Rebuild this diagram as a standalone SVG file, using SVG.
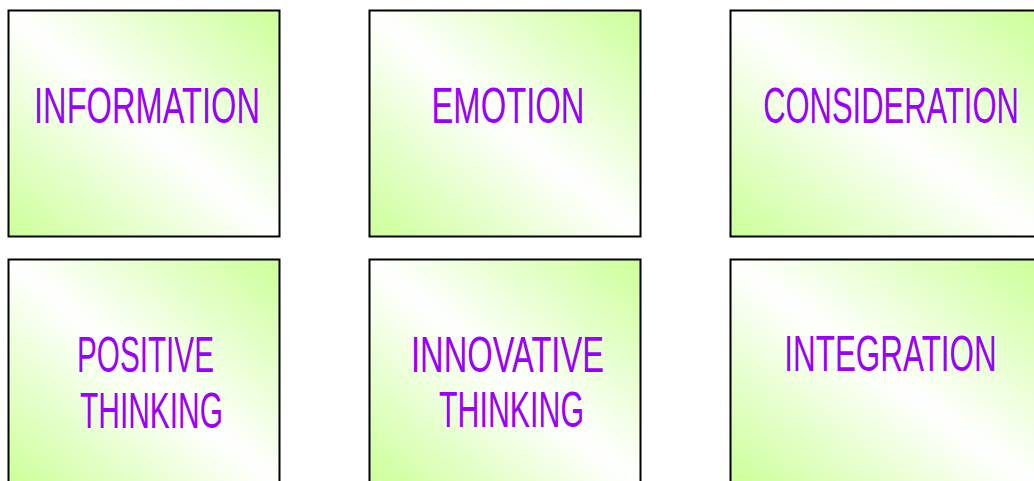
<svg xmlns="http://www.w3.org/2000/svg" width="1034" height="481" viewBox="0 0 1034 481">
  <defs>
    <linearGradient id="g" x1="1" y1="0" x2="0" y2="1">
      <stop offset="0" stop-color="#ccff99"/>
      <stop offset="0.5" stop-color="#ffffff"/>
      <stop offset="1" stop-color="#ccff99"/>
    </linearGradient>
  </defs>
  <style>
    .box { fill: url(#g); stroke: #000; stroke-width: 2; }
    .lbl { font-family: "Liberation Sans", Arial, sans-serif; font-size: 50px; fill: #9900ff; text-anchor: middle; }
  </style>
  <rect width="1034" height="481" fill="#ffffff"/>
  <g id="connectors"/>
  <g id="node-information">
    <rect class="box" x="8.5" y="10.5" width="271" height="226"/>
    <text class="lbl" x="147" y="123" textLength="226" lengthAdjust="spacingAndGlyphs">INFORMATION</text>
  </g>
  <g id="node-emotion">
    <rect class="box" x="369.5" y="10.5" width="271" height="226"/>
    <text class="lbl" x="508" y="123" textLength="153" lengthAdjust="spacingAndGlyphs">EMOTION</text>
  </g>
  <g id="node-consideration">
    <rect class="box" x="730.5" y="10.5" width="306" height="226"/>
    <text class="lbl" transform="translate(891 123) scale(0.619 1)" x="0" y="0">CONSIDERATION</text>
  </g>
  <g id="node-positive-thinking">
    <rect class="box" x="8.5" y="259.5" width="271" height="226"/>
    <text class="lbl" x="145.5" y="372" textLength="137" lengthAdjust="spacingAndGlyphs">POSITIVE</text>
    <text class="lbl" x="151.5" y="428" textLength="143" lengthAdjust="spacingAndGlyphs">THINKING</text>
  </g>
  <g id="node-innovative-thinking">
    <rect class="box" x="369.5" y="259.5" width="271" height="226"/>
    <text class="lbl" x="507.5" y="372" textLength="193" lengthAdjust="spacingAndGlyphs">INNOVATIVE</text>
    <text class="lbl" x="511.5" y="427" textLength="145" lengthAdjust="spacingAndGlyphs">THINKING</text>
  </g>
  <g id="node-integration">
    <rect class="box" x="730.5" y="259.5" width="306" height="226"/>
    <text class="lbl" transform="translate(890.5 371) scale(0.629 1)" x="0" y="0">INTEGRATION</text>
  </g>
</svg>
